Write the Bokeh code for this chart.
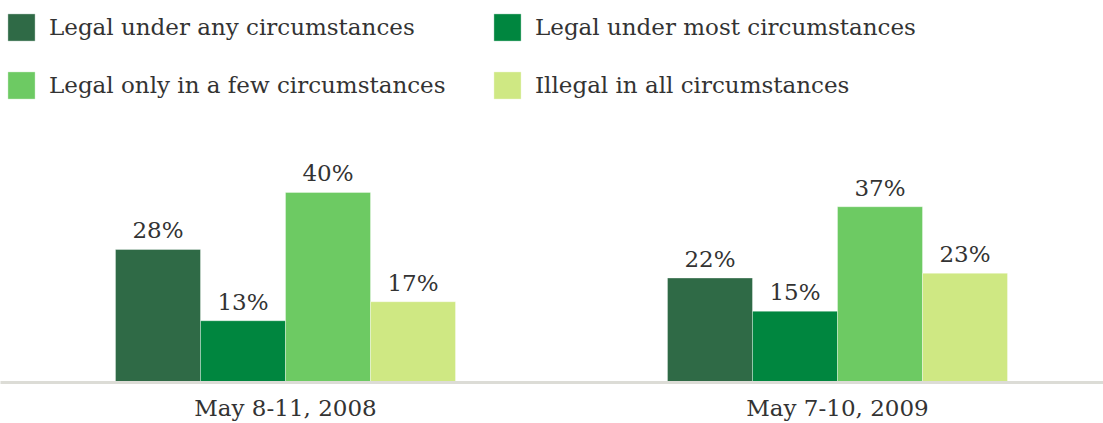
from bokeh.plotting import figure
from bokeh.models import Range1d, FixedTicker, ColumnDataSource, Legend, LegendItem
from bokeh.embed import file_html
from bokeh.resources import INLINE
from bokeh.core.properties import value

periods = ["May 8-11, 2008", "May 7-10, 2009"]
series_names = ["Legal under any circumstances", "Legal under most circumstances",
                "Legal only in a few circumstances", "Illegal in all circumstances"]
any_vals = [28, 22]
most_vals = [13, 15]
few_vals = [40, 37]
illegal_vals = [17, 23]
series_vals = [any_vals, most_vals, few_vals, illegal_vals]
colors = ["#2f6a46", "#00863f", "#6dca63", "#cfe883"]

FONT = "DejaVu Serif"
TXT = "#333333"
BAR_W = 0.154

p = figure(width=1103, height=423, output_backend="svg", toolbar_location=None,
           x_range=Range1d(-0.5163, 1.4819), y_range=Range1d(0, 80.4),
           y_axis_location=None, min_border_left=0, min_border_right=0,
           min_border_top=0, min_border_bottom=41)
p.outline_line_color = None
p.xgrid.visible = False
p.ygrid.visible = False

renderers = []
for j, (name, vals, col) in enumerate(zip(series_names, series_vals, colors)):
    xs = [g + (j - 1.5) * BAR_W for g in range(len(periods))]
    src = ColumnDataSource(dict(x=xs, top=vals, lab=[f"{v}%" for v in vals]))
    r = p.vbar(x="x", top="top", width=BAR_W, bottom=0, source=src,
               fill_color=col, line_color="white", line_alpha=0.35, line_width=1)
    p.text(x="x", y="top", text="lab", source=src, text_align="center",
           text_baseline="bottom", y_offset=-6, text_font=value(FONT),
           text_font_size="23px", text_color=TXT)
    renderers.append(r)

ax = p.xaxis[0]
ax.ticker = FixedTicker(ticks=list(range(len(periods))))
ax.major_label_overrides = {i: lab for i, lab in enumerate(periods)}
ax.major_label_text_font = FONT
ax.major_label_text_font_size = "23px"
ax.major_label_text_color = TXT
ax.major_label_standoff = 6
ax.axis_line_color = "#dcdcd6"
ax.axis_line_width = 3
ax.major_tick_line_color = None
ax.minor_tick_line_color = None

order = [0, 2, 1, 3]
legend = Legend(items=[LegendItem(label=series_names[i], renderers=[renderers[i]]) for i in order],
                location=(4, 280), orientation="vertical", nrows=2,
                glyph_width=34, glyph_height=34, label_standoff=11, spacing=24,
                label_width=417,
                padding=0, margin=0, border_line_color=None, background_fill_alpha=0,
                label_text_font=FONT, label_text_font_size="23px", label_text_color=TXT)
p.add_layout(legend)

open("out.html", "w").write(file_html(p, INLINE))
